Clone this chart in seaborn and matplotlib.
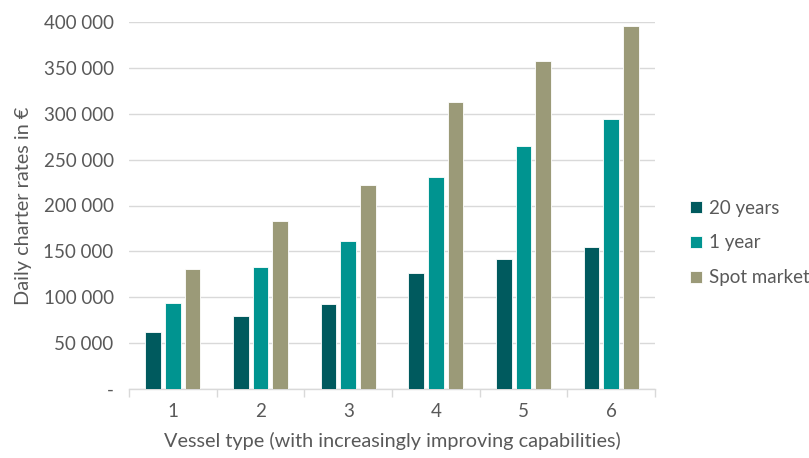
import matplotlib
matplotlib.use("Agg")
import matplotlib.pyplot as plt
from matplotlib.ticker import FuncFormatter, FixedLocator
import seaborn as sns
import pandas as pd

vessel_types = ["1", "2", "3", "4", "5", "6"]
series_names = ["20 years", "1 year", "Spot market"]
rate_20_years = [62000, 80000, 93000, 126000, 142000, 155000]
rate_1_year = [94000, 133000, 161000, 231000, 265000, 294000]
rate_spot = [131000, 183000, 222000, 313000, 358000, 396000]
y_ticks = [0, 50000, 100000, 150000, 200000, 250000, 300000, 350000, 400000]

colors = ["#005a5e", "#009490", "#9b9a78"]
text_color = "#595959"

sns.set_theme(style="white")
plt.rcParams["font.family"] = ["Lato", "DejaVu Sans"]

rows = []
for name, vals in zip(series_names, [rate_20_years, rate_1_year, rate_spot]):
    for vt, v in zip(vessel_types, vals):
        rows.append({"Vessel type": vt, "Series": name, "Rate": v})
df = pd.DataFrame(rows)

fig = plt.figure(figsize=(8.09, 4.58), dpi=100)
ax = fig.add_axes([129 / 809, 1 - 389 / 458, (655 - 129) / 809, (389 - 22) / 458])

sns.barplot(data=df, x="Vessel type", y="Rate", hue="Series", order=vessel_types,
            hue_order=series_names, palette=colors, saturation=1, width=0.67, gap=0.2,
            edgecolor="white", linewidth=0.6, ax=ax, zorder=3)

ax.set_ylim(0, 400000)
ax.set_yticks(y_ticks)
ax.yaxis.set_major_formatter(FuncFormatter(
    lambda v, p: "-" if v == 0 else f"{int(v):,}".replace(",", " ")))
ax.grid(axis="y", color="#d9d9d9", linewidth=1.0, zorder=0)
ax.set_axisbelow(True)

for s in ["top", "right", "left"]:
    ax.spines[s].set_visible(False)
ax.spines["bottom"].set_color("#d9d9d9")
ax.spines["bottom"].set_linewidth(1.0)

ax.set_xlim(-0.5, len(vessel_types) - 0.5)
ax.xaxis.set_minor_locator(FixedLocator([i - 0.5 for i in range(len(vessel_types) + 1)]))
ax.tick_params(axis="x", which="minor", length=6, color="#d9d9d9", width=1.0, bottom=True)
ax.tick_params(axis="x", which="major", length=0, pad=10, labelsize=13.5, labelcolor=text_color)
ax.tick_params(axis="y", length=0, pad=11, labelsize=13.5, labelcolor=text_color)

ax.set_xlabel("Vessel type (with increasingly improving capabilities)", fontsize=14.3,
              color=text_color, labelpad=9)
ax.set_ylabel("Daily charter rates in €", fontsize=14.3, color=text_color, labelpad=8)

ax.legend(loc="center left", bbox_to_anchor=(1.035, 0.398), frameon=False, fontsize=13.5,
          labelcolor=text_color, handlelength=0.6, handleheight=0.6, handletextpad=0.4,
          labelspacing=0.95)

fig.savefig("out.png", dpi=100)
